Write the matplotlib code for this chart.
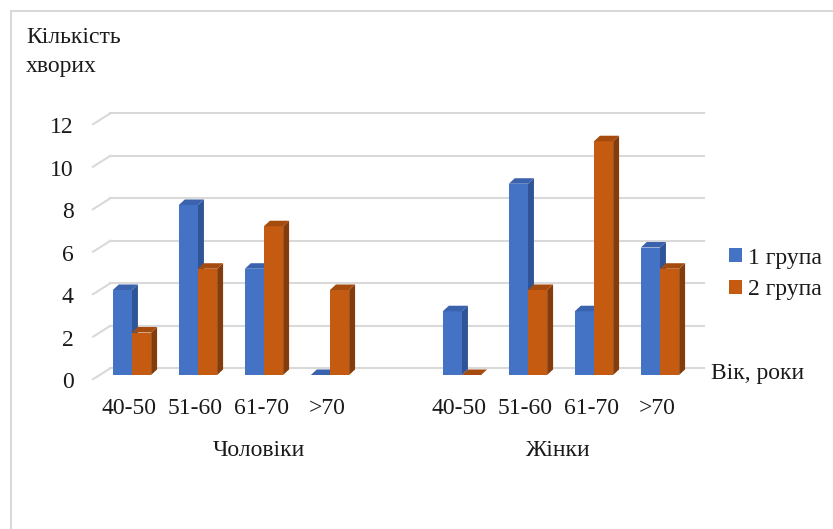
import matplotlib.pyplot as plt
from matplotlib.patches import Polygon
from matplotlib.lines import Line2D
import numpy as np

plt.rcParams['font.family'] = ['Liberation Serif', 'DejaVu Serif']

# дані
ages = ['40-50', '51-60', '61-70', '>70']
groups = ['Чоловіки', 'Жінки']
group1 = [4, 8, 5, 0, 3, 9, 3, 6]   # 1 група: чоловіки, потім жінки
group2 = [2, 5, 7, 4, 0, 4, 11, 5]  # 2 група
series_names = ['1 група', '2 група']
yticks = [0, 2, 4, 6, 8, 10, 12]

W, H = 833, 529
FS = 17
TXT = '#1a1a1a'
fig = plt.figure(figsize=(W / 100, H / 100), dpi=100)

# пікселі -> дані: x_px = 132 + 66*x, y_px = 375 - 21.25*y
def px2x(p):
    return (p - 132) / 66.0

def px2y(p):
    return (375 - p) / 21.25

ax_l, ax_r, ax_t, ax_b = 93, 720, 100, 395
ax = fig.add_axes([ax_l / W, 1 - ax_b / H, (ax_r - ax_l) / W, (ax_b - ax_t) / H])
ax.set_xlim(px2x(ax_l), px2x(ax_r))
ax.set_ylim(px2y(ax_b), px2y(ax_t))
for s in ax.spines.values():
    s.set_visible(False)

# позиції категорій (порожній слот між чоловіками і жінками)
pos = np.array([0, 1, 2, 3, 5, 6, 7, 8])
bw = 0.29

# сітка на задній стінці з діагоналлю зліва
gdx, gdy = 0.26, 0.36
x_front = px2x(93)
x_end = px2x(704)
grid_c = '#d9d9d9'
for v in yticks:
    ax.plot([x_front, x_front + gdx], [v - 0.2, v + gdy - 0.05], color=grid_c, lw=1.5, zorder=1, clip_on=False)
    ax.plot([x_front + gdx, x_end], [v + gdy - 0.05, v + gdy - 0.05], color=grid_c, lw=1.5, zorder=1, clip_on=False)

# об'ємні стовпчики
ddx, ddy = 0.09, 0.26
colors = [('#4472c4', '#2f5597', '#3a62ad'), ('#c55a11', '#843c0c', '#a64b0e')]
handles = []
z = 3
for i in range(len(pos)):
    for k, vals in enumerate([group1, group2]):
        x0 = pos[i] - bw + k * bw
        x1 = x0 + bw
        h = vals[i]
        front, side, top = colors[k]
        b = ax.bar(x0, h, width=bw, align='edge', color=front, zorder=z, linewidth=0)
        ax.add_patch(Polygon([(x1, 0), (x1 + ddx, ddy), (x1 + ddx, h + ddy), (x1, h)],
                             closed=True, color=side, lw=0, zorder=z))
        ax.add_patch(Polygon([(x0, h), (x0 + ddx, h + ddy), (x1 + ddx, h + ddy), (x1, h)],
                             closed=True, color=top, lw=0, zorder=z))
        z += 1
        if i == 0:
            handles.append(b)

ax.set_yticks([v - 0.24 for v in yticks])
ax.set_yticklabels([str(v) for v in yticks])
ax.set_xticks(pos - 0.04)
ax.set_xticklabels(ages * 2)
ax.tick_params(axis='both', length=0, labelsize=FS, colors=TXT)
ax.tick_params(axis='y', pad=14)
ax.tick_params(axis='x', pad=2)

# підписи груп
fig.text(259 / W, 1 - 451 / H, groups[0], ha='center', va='center', fontsize=FS, color=TXT)
fig.text(558 / W, 1 - 451 / H, groups[1], ha='center', va='center', fontsize=FS, color=TXT)

# назви осей
fig.text(26 / W, 1 - 27 / H, 'Кількість\nхворих', ha='left', va='top', fontsize=FS,
         linespacing=1.5, color=TXT)
fig.text(711 / W, 1 - 374 / H, 'Вік, роки', ha='left', va='center', fontsize=FS, color=TXT)

leg = fig.legend(handles, series_names, loc='center left', bbox_to_anchor=(729 / W, 1 - 274 / H),
                 frameon=False, fontsize=FS, handlelength=0.55, handleheight=0.55,
                 handletextpad=0.25, labelspacing=0.45, borderpad=0, borderaxespad=0)
for t in leg.get_texts():
    t.set_color(TXT)

# рамка діаграми
fig.add_artist(Line2D([11 / W, 11 / W], [0, 1 - 11 / H], color='#d9d9d9', lw=1.5, transform=fig.transFigure))
fig.add_artist(Line2D([11 / W, 1], [1 - 11 / H, 1 - 11 / H], color='#d9d9d9', lw=1.5, transform=fig.transFigure))

fig.savefig('out.png', dpi=100)
